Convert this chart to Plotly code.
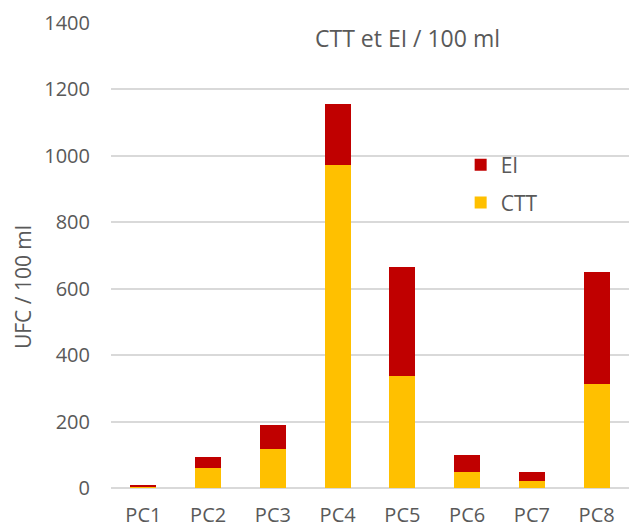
import plotly.graph_objects as go

categories = ["PC1", "PC2", "PC3", "PC4", "PC5", "PC6", "PC7", "PC8"]
ctt = [4, 59, 118, 971, 338, 48, 21, 314]
ei = [4, 33, 72, 184, 326, 50, 28, 335]
y_ticks = [0, 200, 400, 600, 800, 1000, 1200, 1400]

FONT = "Open Sans"
TXT = "#595959"

fig = go.Figure()
fig.add_trace(go.Bar(x=categories, y=ctt, name="CTT", legend="legend2",
                     marker=dict(color="#FFC000", line=dict(width=0))))
fig.add_trace(go.Bar(x=categories, y=ei, name="EI", legend="legend",
                     marker=dict(color="#C00000", line=dict(width=0))))

leg_common = dict(xanchor="left", yanchor="middle", font=dict(size=21, color=TXT, family=FONT),
                  bgcolor="rgba(0,0,0,0)", itemwidth=30)

fig.update_layout(
    width=644, height=530,
    barmode="stack", bargap=0.6,
    paper_bgcolor="white", plot_bgcolor="white",
    margin=dict(l=103, r=23, t=14, b=50, autoexpand=False),
    font=dict(family=FONT, size=20, color=TXT),
    showlegend=True,
    legend=dict(x=0.675, y=0.693, **leg_common),
    legend2=dict(x=0.675, y=0.612, **leg_common),
    xaxis=dict(showgrid=False, showline=False, ticks="", ticklabelstandoff=13, automargin=False,
               tickfont=dict(size=20, color=TXT)),
    yaxis=dict(range=[0, 1403], tickvals=y_ticks, showgrid=True, gridcolor="#D9D9D9", gridwidth=1.5,
               zeroline=True, zerolinecolor="#D9D9D9", zerolinewidth=1.5, showline=False, ticks="",
               automargin=False, ticklabelstandoff=20, ticklabeloverflow="allow",
               tickfont=dict(size=20, color=TXT)),
    annotations=[
        dict(text="CTT et EI / 100 ml", x=0.573, y=0.966, xref="paper", yref="paper",
             showarrow=False, xanchor="center", yanchor="middle",
             font=dict(size=23, color=TXT)),
        dict(text="UFC / 100 ml", x=-0.170, y=0.431, xref="paper", yref="paper",
             showarrow=False, xanchor="center", yanchor="middle", textangle=-90,
             font=dict(size=21, color=TXT)),
    ],
)

fig.write_html("out.html")
